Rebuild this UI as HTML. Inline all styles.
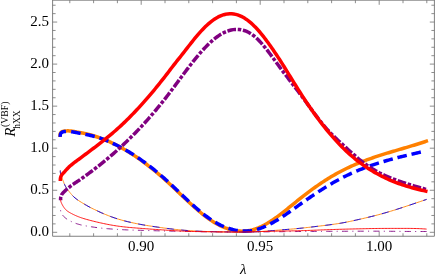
<!DOCTYPE html>
<html lang="en"><head><meta charset="utf-8"><title>plot</title>
<style>html,body{margin:0;padding:0;background:#fff;overflow:hidden}body{width:436px;height:278px;font-family:"Liberation Serif",serif}</style></head>
<body>
<svg width="436" height="278" viewBox="0 0 436 278" style="display:block;will-change:transform">
<rect x="0" y="0" width="436" height="278" fill="#fff"/>
<defs><clipPath id="c"><rect x="52.5" y="0.5" width="382" height="236"/></clipPath></defs>
<g clip-path="url(#c)" fill="none" stroke-linejoin="round">
<path d="M60.00,136.90 L59.99,136.17 L60.00,135.39 L60.00,135.28 L60.05,134.59 L60.20,133.82 L60.26,133.61 L60.48,133.11 L60.93,132.49 L61.17,132.26 L61.52,131.98 L62.20,131.60 L62.61,131.44 L62.93,131.34 L63.68,131.17 L64.23,131.09 L64.45,131.06 L65.22,130.97 L65.88,130.92 L65.99,130.91 L66.76,130.88 L67.52,130.86 L67.53,130.86 L68.29,130.87 L69.06,130.90 L69.17,130.90 L69.83,130.95 L70.59,131.01 L70.81,131.03 L71.35,131.10 L72.12,131.19 L72.44,131.24 L72.88,131.30 L73.64,131.42 L74.07,131.50 L74.40,131.55 L75.16,131.69 L75.70,131.79 L75.92,131.83 L76.67,131.97 L77.32,132.10 L77.43,132.12 L78.19,132.26 L78.94,132.40 L78.95,132.40 L79.71,132.54 L80.46,132.67 L80.57,132.69 L81.22,132.81 L81.98,132.95 L82.19,132.99 L82.73,133.09 L83.49,133.24 L83.81,133.30 L84.24,133.39 L84.99,133.54 L85.42,133.63 L85.75,133.70 L87.03,133.99 L88.63,134.38 L90.22,134.80 L91.81,135.25 L93.39,135.72 L94.96,136.21 L96.53,136.72 L98.09,137.24 L99.65,137.79 L101.20,138.36 L102.74,138.94 L104.27,139.55 L105.79,140.17 L107.31,140.82 L108.82,141.47 L110.33,142.15 L111.82,142.85 L113.31,143.55 L114.79,144.28 L116.26,145.02 L117.73,145.78 L119.18,146.55 L120.63,147.33 L122.08,148.13 L123.51,148.94 L124.94,149.76 L126.36,150.60 L127.77,151.45 L129.17,152.32 L130.57,153.19 L131.96,154.08 L133.34,154.97 L134.72,155.88 L136.09,156.80 L137.45,157.73 L138.80,158.67 L140.15,159.62 L141.49,160.58 L142.82,161.55 L144.15,162.52 L145.47,163.51 L146.79,164.50 L148.09,165.51 L149.39,166.52 L150.69,167.54 L151.98,168.57 L153.26,169.60 L154.53,170.65 L155.80,171.70 L157.07,172.76 L158.32,173.82 L159.58,174.89 L160.82,175.97 L162.06,177.06 L163.30,178.15 L164.53,179.25 L165.75,180.35 L166.97,181.46 L168.18,182.57 L169.39,183.69 L170.60,184.82 L171.80,185.95 L173.00,187.08 L174.20,188.21 L175.39,189.35 L176.58,190.48 L177.78,191.62 L178.97,192.76 L180.16,193.90 L181.35,195.04 L182.54,196.17 L183.74,197.31 L184.94,198.44 L186.13,199.57 L187.34,200.70 L188.54,201.82 L189.75,202.94 L190.96,204.06 L192.18,205.17 L193.40,206.27 L194.63,207.37 L195.87,208.46 L197.11,209.54 L198.36,210.62 L199.62,211.68 L200.89,212.73 L202.17,213.77 L203.46,214.80 L204.76,215.81 L206.07,216.81 L207.40,217.79 L208.74,218.76 L210.09,219.70 L211.46,220.62 L212.84,221.52 L214.24,222.39 L215.66,223.23 L217.09,224.04 L218.54,224.82 L220.01,225.57 L221.50,226.28 L223.01,226.95 L224.53,227.58 L226.07,228.17 L227.63,228.71 L229.21,229.21 L230.80,229.65 L232.40,230.04 L234.01,230.38 L235.64,230.65 L237.28,230.87 L238.92,231.02 L240.57,231.11 L242.22,231.14 L243.87,231.10 L245.52,230.99 L247.16,230.82 L248.79,230.58 L250.41,230.27 L252.02,229.91 L253.61,229.48 L255.19,228.99 L256.75,228.44 L258.28,227.84 L259.80,227.20 L261.30,226.51 L262.78,225.78 L264.25,225.02 L265.69,224.23 L267.12,223.41 L268.54,222.56 L269.94,221.69 L271.32,220.79 L272.69,219.88 L274.06,218.95 L275.41,218.01 L276.75,217.05 L278.08,216.08 L279.40,215.09 L280.71,214.10 L282.02,213.09 L283.32,212.08 L284.62,211.06 L285.91,210.04 L287.20,209.01 L288.48,207.98 L289.76,206.94 L291.04,205.90 L292.32,204.86 L293.60,203.82 L294.88,202.78 L296.16,201.74 L297.44,200.71 L298.72,199.67 L300.01,198.64 L301.30,197.62 L302.59,196.60 L303.89,195.58 L305.20,194.58 L306.51,193.58 L307.82,192.58 L309.14,191.59 L310.46,190.61 L311.79,189.64 L313.13,188.67 L314.47,187.71 L315.82,186.76 L317.17,185.82 L318.52,184.89 L319.89,183.96 L321.26,183.04 L322.63,182.13 L324.01,181.23 L325.40,180.34 L326.79,179.46 L328.19,178.59 L329.59,177.72 L331.01,176.87 L332.42,176.03 L333.85,175.20 L335.28,174.38 L336.71,173.57 L338.16,172.78 L339.61,171.99 L341.06,171.22 L342.53,170.46 L343.99,169.72 L345.47,168.98 L346.95,168.26 L348.44,167.55 L349.93,166.86 L351.43,166.17 L352.94,165.50 L354.45,164.84 L355.96,164.19 L357.48,163.56 L359.01,162.93 L360.54,162.31 L362.07,161.71 L363.61,161.11 L365.15,160.53 L366.69,159.95 L368.24,159.39 L369.79,158.83 L371.35,158.28 L372.90,157.74 L374.46,157.21 L376.03,156.69 L377.59,156.17 L379.16,155.66 L380.73,155.16 L382.30,154.66 L383.87,154.16 L385.45,153.67 L387.02,153.19 L388.60,152.71 L390.17,152.23 L391.75,151.76 L393.33,151.29 L394.91,150.82 L396.49,150.36 L398.08,149.89 L399.66,149.43 L401.24,148.96 L402.82,148.50 L404.40,148.03 L405.98,147.57 L407.56,147.10 L409.14,146.63 L410.72,146.16 L412.30,145.69 L413.88,145.21 L415.45,144.73 L417.03,144.24 L418.60,143.75 L420.17,143.25 L421.74,142.75 L423.31,142.24 L424.88,141.73 L426.44,141.21 L428.00,140.68" stroke="#ff8000" stroke-width="3.5"/>
<path d="M60.30,170.50 L60.28,171.29 L60.32,172.05 L60.32,172.07 L60.41,172.84 L60.54,173.56 L60.54,173.59 L60.72,174.34 L60.90,175.02 L60.92,175.07 L61.16,175.80 L61.38,176.45 L61.41,176.52 L61.68,177.24 L61.93,177.86 L61.97,177.96 L62.26,178.67 L62.51,179.28 L62.55,179.39 L62.84,180.10 L63.07,180.70 L63.12,180.83 L63.40,181.55 L63.61,182.12 L63.67,182.27 L63.95,182.99 L64.17,183.54 L64.24,183.70 L64.54,184.41 L64.77,184.93 L64.85,185.11 L65.19,185.79 L65.45,186.28 L65.55,186.47 L65.94,187.13 L66.22,187.58 L66.35,187.78 L66.78,188.41 L67.07,188.84 L67.22,189.04 L67.68,189.67 L67.98,190.06 L68.15,190.28 L68.62,190.89 L68.92,191.27 L69.10,191.50 L69.58,192.11 L69.87,192.46 L70.07,192.71 L70.56,193.31 L70.84,193.64 L71.05,193.90 L71.56,194.48 L71.83,194.79 L72.07,195.06 L72.59,195.62 L72.87,195.90 L73.13,196.17 L73.67,196.71 L73.95,196.97 L75.08,197.97 L76.27,198.92 L77.50,199.81 L78.76,200.67 L80.03,201.49 L81.32,202.29 L82.62,203.08 L83.93,203.86 L85.24,204.63 L86.55,205.39 L87.87,206.15 L89.20,206.88 L90.54,207.59 L91.90,208.28 L93.26,208.94 L94.63,209.60 L96.00,210.25 L97.38,210.90 L98.75,211.55 L100.13,212.19 L101.51,212.81 L102.91,213.42 L104.30,214.01 L105.71,214.58 L107.12,215.15 L108.53,215.70 L109.95,216.25 L111.37,216.79 L112.80,217.31 L114.23,217.81 L115.67,218.29 L117.12,218.76 L118.57,219.21 L120.03,219.64 L121.49,220.06 L122.95,220.46 L124.42,220.85 L125.89,221.22 L127.37,221.59 L128.85,221.95 L130.33,222.29 L131.81,222.63 L133.29,222.95 L134.78,223.27 L136.26,223.57 L137.75,223.87 L139.25,224.16 L140.74,224.44 L142.23,224.71 L143.73,224.97 L145.23,225.22 L146.72,225.47 L148.22,225.71 L149.72,225.95 L151.23,226.18 L152.73,226.41 L154.23,226.63 L155.73,226.85 L157.24,227.07 L158.74,227.28 L160.24,227.49 L161.75,227.70 L163.25,227.91 L164.76,228.11 L166.26,228.31 L167.77,228.51 L169.28,228.70 L170.79,228.88 L172.29,229.06 L173.80,229.24 L175.31,229.41 L176.82,229.58 L178.33,229.73 L179.84,229.88 L181.35,230.03 L182.87,230.17 L184.38,230.30 L185.89,230.42 L187.41,230.53 L188.92,230.64 L190.44,230.75 L191.96,230.85 L193.47,230.94 L194.99,231.02 L196.51,231.10 L198.02,231.18 L199.54,231.25 L201.06,231.31 L202.58,231.37 L204.09,231.42 L205.61,231.48 L207.13,231.52 L208.65,231.56 L210.17,231.60 L211.68,231.64 L213.20,231.67 L214.72,231.71 L216.24,231.74 L217.76,231.76 L219.28,231.79 L220.80,231.81 L222.31,231.84 L223.83,231.86 L225.35,231.88 L226.87,231.90 L228.39,231.92 L229.91,231.93 L231.43,231.95 L232.94,231.96 L234.46,231.97 L235.98,231.98 L237.50,231.99 L239.02,232.00 L240.54,232.00 L242.06,232.00 L243.58,232.00 L245.10,232.00 L246.62,231.99 L248.14,231.97 L249.66,231.95 L251.17,231.93 L252.69,231.89 L254.21,231.85 L255.73,231.80 L257.25,231.74 L258.76,231.67 L260.28,231.58 L261.80,231.49 L263.31,231.39 L264.82,231.28 L266.34,231.16 L267.85,231.03 L269.37,230.91 L270.88,230.77 L272.39,230.64 L273.91,230.51 L275.42,230.38 L276.93,230.25 L278.45,230.13 L279.96,230.01 L281.48,229.88 L282.99,229.76 L284.50,229.64 L286.02,229.52 L287.53,229.40 L289.05,229.28 L290.56,229.15 L292.07,229.03 L293.59,228.90 L295.10,228.76 L296.61,228.62 L298.12,228.48 L299.63,228.34 L301.15,228.18 L302.66,228.03 L304.17,227.86 L305.68,227.70 L307.18,227.53 L308.69,227.36 L310.20,227.18 L311.71,227.00 L313.22,226.82 L314.73,226.64 L316.23,226.46 L317.74,226.27 L319.25,226.09 L320.76,225.91 L322.27,225.73 L323.78,225.54 L325.28,225.36 L326.79,225.17 L328.30,224.99 L329.81,224.79 L331.31,224.59 L332.82,224.39 L334.32,224.18 L335.82,223.96 L337.33,223.73 L338.83,223.49 L340.32,223.25 L341.82,222.99 L343.31,222.72 L344.81,222.44 L346.30,222.15 L347.79,221.86 L349.27,221.55 L350.76,221.24 L352.25,220.93 L353.73,220.60 L355.22,220.28 L356.70,219.95 L358.18,219.61 L359.66,219.28 L361.15,218.94 L362.63,218.60 L364.11,218.25 L365.59,217.91 L367.07,217.56 L368.54,217.21 L370.02,216.85 L371.49,216.49 L372.97,216.13 L374.44,215.76 L375.91,215.38 L377.38,215.00 L378.85,214.61 L380.32,214.21 L381.78,213.81 L383.24,213.40 L384.70,212.99 L386.16,212.57 L387.62,212.14 L389.08,211.71 L390.53,211.27 L391.98,210.83 L393.44,210.38 L394.89,209.93 L396.34,209.47 L397.78,209.01 L399.23,208.55 L400.68,208.08 L402.12,207.61 L403.57,207.14 L405.01,206.66 L406.45,206.18 L407.89,205.70 L409.33,205.22 L410.77,204.74 L412.21,204.25 L413.65,203.77 L415.09,203.28 L416.53,202.79 L417.97,202.31 L419.41,201.82 L420.85,201.34 L422.29,200.85 L423.72,200.37 L425.16,199.88 L426.60,199.40" stroke="#ff8000" stroke-width="0.9"/>
<path d="M60.30,136.90 L60.25,136.16 L60.27,135.38 L60.27,135.28 L60.37,134.59 L60.60,133.85 L60.67,133.68 L60.97,133.18 L61.50,132.61 L61.71,132.45 L62.14,132.18 L62.86,131.88 L63.20,131.78 L63.60,131.70 L64.37,131.58 L64.82,131.54 L65.14,131.51 L65.92,131.46 L66.45,131.43 L66.69,131.42 L67.46,131.41 L68.08,131.41 L68.22,131.41 L68.99,131.44 L69.69,131.49 L69.75,131.50 L70.51,131.57 L71.28,131.66 L71.31,131.67 L72.04,131.77 L72.80,131.89 L72.91,131.91 L73.55,132.03 L74.31,132.17 L74.52,132.21 L75.07,132.32 L75.83,132.47 L76.12,132.53 L76.58,132.63 L77.34,132.79 L77.72,132.87 L78.09,132.94 L78.85,133.09 L79.32,133.18 L79.61,133.24 L80.36,133.38 L80.92,133.49 L81.12,133.53 L81.88,133.67 L82.52,133.79 L82.63,133.81 L83.39,133.95 L84.12,134.09 L84.14,134.09 L84.90,134.24 L85.65,134.39 L85.71,134.40 L86.40,134.54 L87.31,134.72 L88.90,135.07 L90.48,135.43 L92.07,135.81 L93.64,136.21 L95.22,136.63 L96.79,137.07 L98.35,137.54 L99.90,138.03 L101.44,138.55 L102.97,139.10 L104.49,139.69 L106.00,140.30 L107.50,140.93 L108.99,141.58 L110.47,142.25 L111.95,142.93 L113.43,143.62 L114.90,144.32 L116.36,145.04 L117.81,145.76 L119.26,146.50 L120.71,147.26 L122.14,148.03 L123.57,148.81 L124.99,149.60 L126.41,150.40 L127.81,151.22 L129.21,152.05 L130.61,152.89 L131.99,153.75 L133.37,154.62 L134.73,155.50 L136.09,156.40 L137.44,157.31 L138.78,158.23 L140.12,159.16 L141.45,160.10 L142.77,161.05 L144.08,162.01 L145.39,162.98 L146.69,163.96 L147.99,164.94 L149.28,165.94 L150.56,166.93 L151.84,167.94 L153.12,168.95 L154.38,169.97 L155.65,171.00 L156.91,172.03 L158.16,173.07 L159.40,174.12 L160.64,175.17 L161.88,176.23 L163.10,177.30 L164.33,178.38 L165.54,179.46 L166.75,180.55 L167.95,181.65 L169.14,182.75 L170.33,183.86 L171.52,184.98 L172.70,186.10 L173.89,187.22 L175.06,188.34 L176.24,189.46 L177.42,190.58 L178.60,191.71 L179.77,192.83 L180.95,193.95 L182.13,195.08 L183.31,196.20 L184.49,197.32 L185.67,198.44 L186.86,199.55 L188.05,200.66 L189.24,201.77 L190.43,202.88 L191.63,203.97 L192.84,205.07 L194.05,206.15 L195.27,207.23 L196.49,208.31 L197.73,209.37 L198.96,210.43 L200.21,211.47 L201.47,212.51 L202.74,213.53 L204.01,214.54 L205.30,215.53 L206.60,216.51 L207.92,217.47 L209.25,218.41 L210.59,219.33 L211.94,220.24 L213.31,221.11 L214.70,221.97 L216.11,222.79 L217.53,223.59 L218.97,224.35 L220.42,225.08 L221.90,225.76 L223.39,226.41 L224.91,227.01 L226.43,227.58 L227.97,228.10 L229.53,228.59 L231.09,229.05 L232.67,229.47 L234.25,229.85 L235.85,230.18 L237.45,230.46 L239.06,230.69 L240.68,230.85 L242.31,230.96 L243.94,231.01 L245.57,231.01 L247.20,230.97 L248.82,230.87 L250.45,230.71 L252.06,230.50 L253.66,230.22 L255.26,229.88 L256.83,229.47 L258.40,229.01 L259.94,228.50 L261.48,227.95 L263.00,227.36 L264.50,226.73 L265.99,226.07 L267.47,225.39 L268.93,224.67 L270.38,223.93 L271.81,223.16 L273.24,222.38 L274.65,221.57 L276.05,220.74 L277.45,219.90 L278.83,219.04 L280.20,218.17 L281.57,217.29 L282.93,216.39 L284.29,215.49 L285.63,214.58 L286.98,213.66 L288.31,212.73 L289.65,211.80 L290.98,210.86 L292.30,209.92 L293.63,208.97 L294.95,208.03 L296.28,207.08 L297.60,206.13 L298.92,205.18 L300.25,204.24 L301.57,203.29 L302.90,202.35 L304.23,201.41 L305.56,200.47 L306.89,199.54 L308.23,198.62 L309.57,197.69 L310.91,196.77 L312.26,195.86 L313.61,194.95 L314.96,194.04 L316.32,193.14 L317.68,192.25 L319.04,191.36 L320.41,190.48 L321.78,189.60 L323.15,188.73 L324.53,187.87 L325.92,187.01 L327.31,186.16 L328.70,185.32 L330.10,184.49 L331.50,183.66 L332.91,182.85 L334.32,182.04 L335.74,181.24 L337.17,180.45 L338.60,179.68 L340.03,178.91 L341.47,178.15 L342.92,177.41 L344.37,176.68 L345.83,175.96 L347.30,175.25 L348.77,174.55 L350.24,173.87 L351.73,173.19 L353.21,172.53 L354.70,171.88 L356.20,171.23 L357.70,170.60 L359.21,169.99 L360.71,169.38 L362.23,168.78 L363.75,168.19 L365.27,167.62 L366.79,167.05 L368.32,166.50 L369.86,165.95 L371.39,165.41 L372.93,164.89 L374.48,164.37 L376.02,163.86 L377.57,163.36 L379.12,162.87 L380.68,162.39 L382.24,161.91 L383.79,161.45 L385.36,160.99 L386.92,160.54 L388.49,160.09 L390.05,159.66 L391.62,159.22 L393.19,158.80 L394.77,158.38 L396.34,157.97 L397.92,157.56 L399.49,157.16 L401.07,156.76 L402.65,156.37 L404.23,155.98 L405.81,155.59 L407.39,155.21 L408.98,154.83 L410.56,154.46 L412.14,154.08 L413.73,153.71 L415.31,153.34 L416.90,152.98 L418.48,152.61 L420.07,152.24 L421.66,151.88 L423.24,151.51 L424.83,151.15 L426.41,150.78 L428.00,150.42" stroke="#0000ff" stroke-width="3.5" stroke-dasharray="9.3 5.25 9.6 4.85 9.6 4.85 9.6 4.85 9.6 4.85 9.6 4.85 9.6 4.85 9.6 4.85 9.6 4.85 9.6 4.85 9.6 4.85 9.6 4.85 9.6 4.85 9.6 4.85 9.6 4.85 9.6 4.85 9.6 4.85 9.6 4.85 9.6 4.85 9.6 4.85 9.6 4.85 9.6 4.85 9.6 4.85 9.6 4.85 9.6 4.85 9.6 4.85 9.6 4.85 9.6 4.85 9.6 2000"/>
<path d="M60.30,170.50 L60.28,171.29 L60.32,172.05 L60.32,172.07 L60.41,172.84 L60.54,173.56 L60.54,173.59 L60.72,174.34 L60.90,175.02 L60.92,175.07 L61.16,175.80 L61.38,176.45 L61.41,176.52 L61.68,177.24 L61.93,177.86 L61.97,177.96 L62.26,178.67 L62.51,179.28 L62.55,179.39 L62.84,180.10 L63.07,180.70 L63.12,180.83 L63.40,181.55 L63.61,182.12 L63.67,182.27 L63.95,182.99 L64.17,183.54 L64.24,183.70 L64.54,184.41 L64.77,184.93 L64.85,185.11 L65.19,185.79 L65.45,186.28 L65.55,186.47 L65.94,187.13 L66.22,187.58 L66.35,187.78 L66.78,188.41 L67.07,188.84 L67.22,189.04 L67.68,189.67 L67.98,190.06 L68.15,190.28 L68.62,190.89 L68.92,191.27 L69.10,191.50 L69.58,192.11 L69.87,192.46 L70.07,192.71 L70.56,193.31 L70.84,193.64 L71.05,193.90 L71.56,194.48 L71.83,194.79 L72.07,195.06 L72.59,195.62 L72.87,195.90 L73.13,196.17 L73.67,196.71 L73.95,196.97 L75.08,197.97 L76.27,198.92 L77.50,199.81 L78.76,200.67 L80.03,201.49 L81.32,202.29 L82.62,203.08 L83.93,203.86 L85.24,204.63 L86.55,205.39 L87.87,206.15 L89.20,206.88 L90.54,207.59 L91.90,208.28 L93.26,208.94 L94.63,209.60 L96.00,210.25 L97.38,210.90 L98.75,211.55 L100.13,212.19 L101.51,212.81 L102.91,213.42 L104.30,214.01 L105.71,214.58 L107.12,215.15 L108.53,215.70 L109.95,216.25 L111.37,216.79 L112.80,217.31 L114.23,217.81 L115.67,218.29 L117.12,218.76 L118.57,219.21 L120.03,219.64 L121.49,220.06 L122.95,220.46 L124.42,220.85 L125.89,221.22 L127.37,221.59 L128.85,221.95 L130.33,222.29 L131.81,222.63 L133.29,222.95 L134.78,223.27 L136.26,223.57 L137.75,223.87 L139.25,224.16 L140.74,224.44 L142.23,224.71 L143.73,224.97 L145.23,225.22 L146.72,225.47 L148.22,225.71 L149.72,225.95 L151.23,226.18 L152.73,226.41 L154.23,226.63 L155.73,226.85 L157.24,227.07 L158.74,227.28 L160.24,227.49 L161.75,227.70 L163.25,227.91 L164.76,228.11 L166.26,228.31 L167.77,228.51 L169.28,228.70 L170.79,228.88 L172.29,229.06 L173.80,229.24 L175.31,229.41 L176.82,229.58 L178.33,229.73 L179.84,229.88 L181.35,230.03 L182.87,230.17 L184.38,230.30 L185.89,230.42 L187.41,230.53 L188.92,230.64 L190.44,230.75 L191.96,230.85 L193.47,230.94 L194.99,231.02 L196.51,231.10 L198.02,231.18 L199.54,231.25 L201.06,231.31 L202.58,231.37 L204.09,231.42 L205.61,231.48 L207.13,231.52 L208.65,231.56 L210.17,231.60 L211.68,231.64 L213.20,231.67 L214.72,231.71 L216.24,231.74 L217.76,231.76 L219.28,231.79 L220.80,231.81 L222.31,231.84 L223.83,231.86 L225.35,231.88 L226.87,231.90 L228.39,231.92 L229.91,231.93 L231.43,231.95 L232.94,231.96 L234.46,231.97 L235.98,231.98 L237.50,231.99 L239.02,232.00 L240.54,232.00 L242.06,232.00 L243.58,232.00 L245.10,232.00 L246.62,231.99 L248.14,231.97 L249.66,231.95 L251.17,231.93 L252.69,231.89 L254.21,231.85 L255.73,231.80 L257.25,231.74 L258.76,231.67 L260.28,231.58 L261.80,231.49 L263.31,231.39 L264.82,231.28 L266.34,231.16 L267.85,231.03 L269.37,230.91 L270.88,230.77 L272.39,230.64 L273.91,230.51 L275.42,230.38 L276.93,230.25 L278.45,230.13 L279.96,230.01 L281.48,229.88 L282.99,229.76 L284.50,229.64 L286.02,229.52 L287.53,229.40 L289.05,229.28 L290.56,229.15 L292.07,229.03 L293.59,228.90 L295.10,228.76 L296.61,228.62 L298.12,228.48 L299.63,228.34 L301.15,228.18 L302.66,228.03 L304.17,227.86 L305.68,227.70 L307.18,227.53 L308.69,227.36 L310.20,227.18 L311.71,227.00 L313.22,226.82 L314.73,226.64 L316.23,226.46 L317.74,226.27 L319.25,226.09 L320.76,225.91 L322.27,225.73 L323.78,225.54 L325.28,225.36 L326.79,225.17 L328.30,224.99 L329.81,224.79 L331.31,224.59 L332.82,224.39 L334.32,224.18 L335.82,223.96 L337.33,223.73 L338.83,223.49 L340.32,223.25 L341.82,222.99 L343.31,222.72 L344.81,222.44 L346.30,222.15 L347.79,221.86 L349.27,221.55 L350.76,221.24 L352.25,220.93 L353.73,220.60 L355.22,220.28 L356.70,219.95 L358.18,219.61 L359.66,219.28 L361.15,218.94 L362.63,218.60 L364.11,218.25 L365.59,217.91 L367.07,217.56 L368.54,217.21 L370.02,216.85 L371.49,216.49 L372.97,216.13 L374.44,215.76 L375.91,215.38 L377.38,215.00 L378.85,214.61 L380.32,214.21 L381.78,213.81 L383.24,213.40 L384.70,212.99 L386.16,212.57 L387.62,212.14 L389.08,211.71 L390.53,211.27 L391.98,210.83 L393.44,210.38 L394.89,209.93 L396.34,209.47 L397.78,209.01 L399.23,208.55 L400.68,208.08 L402.12,207.61 L403.57,207.14 L405.01,206.66 L406.45,206.18 L407.89,205.70 L409.33,205.22 L410.77,204.74 L412.21,204.25 L413.65,203.77 L415.09,203.28 L416.53,202.79 L417.97,202.31 L419.41,201.82 L420.85,201.34 L422.29,200.85 L423.72,200.37 L425.16,199.88 L426.60,199.40" stroke="#0000ff" stroke-width="0.9" stroke-dasharray="6.5 7.6 7 7.45 7 7.45 7 7.45 7 7.45 7 7.45 7 7.45 7 7.45 7 7.45 7 7.45 7 7.45 7 7.45 7 7.45 7 7.45 7 7.45 7 7.45 7 7.45 7 7.45 7 7.45 7 7.45 7 7.45 7 7.45 7 7.45 7 7.45 7 7.45 7 7.45 7 7.45 7 7.45 7 2000"/>
<path d="M60.60,200.20 L60.57,199.44 L60.59,198.67 L60.62,198.25 L60.66,197.89 L60.79,197.12 L60.97,196.37 L60.99,196.31 L61.22,195.64 L61.53,194.94 L61.76,194.53 L61.91,194.28 L62.36,193.66 L62.85,193.07 L62.93,192.97 L63.37,192.49 L63.93,191.94 L64.32,191.56 L64.49,191.40 L65.06,190.87 L65.63,190.34 L65.77,190.21 L66.20,189.82 L66.78,189.30 L67.23,188.90 L67.36,188.79 L67.94,188.29 L68.52,187.79 L68.71,187.64 L69.11,187.31 L69.71,186.83 L70.22,186.42 L70.31,186.35 L70.91,185.89 L71.53,185.43 L71.78,185.25 L72.15,184.98 L72.78,184.54 L73.37,184.13 L73.41,184.11 L74.05,183.67 L74.69,183.25 L75.00,183.04 L75.33,182.82 L75.97,182.40 L76.62,181.97 L76.63,181.97 L77.26,181.55 L77.91,181.13 L78.27,180.89 L78.55,180.70 L79.19,180.27 L79.83,179.84 L79.89,179.80 L80.46,179.40 L81.50,178.68 L83.09,177.55 L84.67,176.40 L86.25,175.25 L87.82,174.09 L89.39,172.93 L90.96,171.76 L92.52,170.59 L94.08,169.41 L95.63,168.22 L97.17,167.02 L98.71,165.82 L100.24,164.61 L101.77,163.38 L103.29,162.15 L104.80,160.92 L106.30,159.67 L107.80,158.42 L109.30,157.16 L110.78,155.89 L112.27,154.62 L113.74,153.33 L115.21,152.04 L116.67,150.75 L118.12,149.44 L119.57,148.13 L121.01,146.80 L122.44,145.48 L123.86,144.14 L125.28,142.80 L126.69,141.45 L128.10,140.09 L129.50,138.72 L130.89,137.35 L132.27,135.97 L133.65,134.58 L135.02,133.19 L136.38,131.79 L137.73,130.38 L139.08,128.97 L140.42,127.55 L141.76,126.12 L143.09,124.68 L144.41,123.24 L145.72,121.80 L147.02,120.34 L148.32,118.88 L149.61,117.42 L150.90,115.94 L152.18,114.47 L153.45,112.98 L154.71,111.49 L155.97,110.00 L157.22,108.49 L158.46,106.99 L159.70,105.47 L160.93,103.96 L162.15,102.43 L163.37,100.90 L164.58,99.37 L165.78,97.83 L166.97,96.28 L168.16,94.73 L169.35,93.18 L170.53,91.62 L171.70,90.06 L172.87,88.49 L174.04,86.93 L175.21,85.36 L176.37,83.79 L177.53,82.22 L178.69,80.65 L179.86,79.08 L181.02,77.51 L182.18,75.94 L183.35,74.37 L184.52,72.81 L185.69,71.24 L186.87,69.68 L188.05,68.13 L189.24,66.57 L190.43,65.03 L191.63,63.49 L192.84,61.95 L194.06,60.42 L195.28,58.90 L196.52,57.39 L197.77,55.88 L199.03,54.39 L200.30,52.91 L201.59,51.44 L202.90,49.99 L204.22,48.55 L205.57,47.13 L206.93,45.73 L208.32,44.35 L209.73,43.00 L211.16,41.67 L212.63,40.38 L214.13,39.12 L215.66,37.91 L217.23,36.74 L218.83,35.62 L220.48,34.56 L222.17,33.58 L223.90,32.66 L225.68,31.83 L227.49,31.10 L229.35,30.48 L231.25,29.99 L233.18,29.63 L235.13,29.42 L237.09,29.36 L239.05,29.46 L240.99,29.73 L242.91,30.16 L244.78,30.73 L246.61,31.45 L248.38,32.29 L250.09,33.25 L251.74,34.31 L253.33,35.46 L254.86,36.68 L256.33,37.97 L257.75,39.31 L259.13,40.70 L260.47,42.13 L261.77,43.58 L263.05,45.07 L264.30,46.57 L265.54,48.09 L266.75,49.62 L267.95,51.16 L269.13,52.71 L270.31,54.27 L271.47,55.84 L272.63,57.42 L273.79,58.99 L274.94,60.57 L276.09,62.15 L277.24,63.73 L278.39,65.30 L279.55,66.88 L280.72,68.45 L281.88,70.01 L283.06,71.58 L284.23,73.14 L285.41,74.70 L286.59,76.25 L287.77,77.81 L288.96,79.36 L290.15,80.91 L291.33,82.47 L292.52,84.02 L293.71,85.57 L294.89,87.12 L296.08,88.68 L297.26,90.23 L298.44,91.79 L299.61,93.35 L300.79,94.92 L301.95,96.48 L303.12,98.05 L304.28,99.62 L305.43,101.20 L306.59,102.78 L307.74,104.35 L308.89,105.93 L310.04,107.51 L311.20,109.09 L312.35,110.66 L313.51,112.23 L314.68,113.80 L315.85,115.36 L317.03,116.92 L318.22,118.48 L319.41,120.02 L320.62,121.56 L321.84,123.09 L323.08,124.60 L324.33,126.10 L325.60,127.59 L326.89,129.05 L328.20,130.50 L329.53,131.93 L330.88,133.34 L332.25,134.74 L333.64,136.12 L335.04,137.48 L336.45,138.83 L337.87,140.17 L339.30,141.50 L340.74,142.82 L342.18,144.15 L343.62,145.47 L345.06,146.79 L346.50,148.11 L347.94,149.43 L349.39,150.74 L350.84,152.05 L352.29,153.35 L353.75,154.65 L355.23,155.94 L356.71,157.21 L358.20,158.47 L359.70,159.72 L361.22,160.95 L362.76,162.16 L364.31,163.35 L365.88,164.51 L367.48,165.64 L369.09,166.74 L370.73,167.81 L372.38,168.85 L374.06,169.85 L375.75,170.83 L377.46,171.77 L379.19,172.69 L380.94,173.57 L382.69,174.42 L384.46,175.25 L386.25,176.05 L388.04,176.83 L389.84,177.58 L391.65,178.31 L393.47,179.03 L395.30,179.72 L397.13,180.40 L398.97,181.06 L400.82,181.70 L402.67,182.33 L404.52,182.95 L406.38,183.55 L408.24,184.14 L410.11,184.72 L411.98,185.29 L413.85,185.85 L415.72,186.40 L417.60,186.94 L419.48,187.48 L421.36,188.02 L423.24,188.55 L425.12,189.08 L427.00,189.61" stroke="#800080" stroke-width="3.5" stroke-dasharray="3.5 1.72 8.74 1.72 3.5 1.72 8.74 1.72 3.5 1.72 8.74 1.72 3.5 1.72 8.74 1.72 3.5 1.72 8.74 1.72 3.5 1.72 8.74 1.72 3.5 1.72 8.74 1.72 3.5 1.72 8.74 1.72 3.5 1.72 8.74 1.72 3.5 1.72 8.74 1.72 3.5 1.72 8.74 1.72 3.5 1.72 8.74 1.72 3.5 1.72 8.74 1.72 3.5 1.72 8.74 1.72 3.5 1.72 8.74 1.72 3.5 1.72 8.74 1.72 3.5 1.72 8.74 1.72 3.5 1.72 8.74 1.72 3.5 1.72 8.74 1.72 3.5 1.72 8.74 1.72 3.5 1.72 8.74 1.72 3.5 1.72 8.74 1.72 3.5 1.72 8.74 1.72 3.5 1.72 8.74 1.72 3.5 1.72 8.74 1.72 3.5 1.72 8.74 1.72 3.5 1.72 8.74 1.72 3.5 1.72 8.74 1.72 3.5 1.72 8.74 1.72 3.5 1.72 8.74 1.72 3.5 1.72 8.74 1.72 3.5 1.72 8.74 1.72 3.5 1.72 8.74 1.72 3.5 1.72 8.74 2000"/>
<path d="M60.60,210.30 L60.64,211.09 L60.76,211.76 L60.79,211.85 L61.02,212.58 L61.25,213.10 L61.34,213.28 L61.71,213.95 L61.97,214.34 L62.15,214.59 L62.62,215.20 L62.85,215.49 L63.12,215.79 L63.64,216.36 L63.83,216.55 L64.19,216.90 L64.76,217.42 L64.89,217.53 L65.35,217.92 L65.95,218.40 L66.01,218.44 L66.57,218.85 L67.18,219.27 L67.21,219.29 L67.86,219.70 L68.40,220.02 L68.52,220.09 L69.19,220.47 L69.66,220.72 L69.87,220.83 L70.56,221.18 L70.95,221.37 L71.25,221.52 L71.95,221.84 L72.25,221.98 L72.66,222.16 L73.36,222.46 L73.58,222.55 L74.08,222.75 L74.79,223.03 L74.92,223.08 L75.52,223.30 L76.24,223.55 L76.27,223.56 L76.97,223.79 L77.64,224.00 L77.71,224.02 L78.44,224.24 L79.02,224.40 L79.18,224.44 L79.93,224.64 L80.41,224.76 L80.67,224.83 L81.42,225.00 L81.81,225.09 L82.17,225.17 L82.92,225.33 L83.22,225.39 L83.68,225.49 L84.44,225.63 L84.63,225.67 L86.05,225.93 L87.47,226.17 L88.89,226.40 L90.32,226.63 L91.74,226.85 L93.16,227.06 L94.59,227.27 L96.01,227.47 L97.43,227.66 L98.86,227.84 L100.29,228.01 L101.71,228.17 L103.14,228.32 L104.57,228.45 L106.01,228.58 L107.44,228.70 L108.87,228.81 L110.31,228.92 L111.74,229.02 L113.18,229.11 L114.61,229.21 L116.05,229.30 L117.48,229.39 L118.92,229.48 L120.35,229.56 L121.79,229.64 L123.23,229.72 L124.66,229.79 L126.10,229.86 L127.53,229.92 L128.97,229.98 L130.41,230.03 L131.85,230.08 L133.28,230.12 L134.72,230.16 L136.16,230.20 L137.60,230.24 L139.03,230.27 L140.47,230.31 L141.91,230.35 L143.35,230.39 L144.78,230.44 L146.22,230.48 L147.66,230.52 L149.09,230.56 L150.53,230.61 L151.97,230.65 L153.41,230.69 L154.84,230.73 L156.28,230.77 L157.72,230.81 L159.16,230.85 L160.59,230.89 L162.03,230.93 L163.47,230.96 L164.91,230.99 L166.34,231.03 L167.78,231.06 L169.22,231.09 L170.66,231.12 L172.09,231.14 L173.53,231.17 L174.97,231.20 L176.41,231.23 L177.84,231.26 L179.28,231.29 L180.72,231.31 L182.16,231.34 L183.60,231.37 L185.03,231.40 L186.47,231.43 L187.91,231.46 L189.35,231.49 L190.78,231.52 L192.22,231.55 L193.66,231.58 L195.10,231.61 L196.53,231.64 L197.97,231.66 L199.41,231.69 L200.85,231.71 L202.29,231.74 L203.72,231.76 L205.16,231.78 L206.60,231.80 L208.04,231.82 L209.47,231.84 L210.91,231.86 L212.35,231.87 L213.79,231.89 L215.23,231.90 L216.66,231.92 L218.10,231.93 L219.54,231.94 L220.98,231.95 L222.42,231.96 L223.85,231.97 L225.29,231.98 L226.73,231.98 L228.17,231.99 L229.61,231.99 L231.04,232.00 L232.48,232.00 L233.92,232.00 L235.36,232.00 L236.80,232.00 L238.23,232.00 L239.67,232.00 L241.11,232.00 L242.55,231.99 L243.98,231.99 L245.42,231.99 L246.86,231.98 L248.30,231.97 L249.74,231.97 L251.17,231.96 L252.61,231.95 L254.05,231.94 L255.49,231.93 L256.93,231.92 L258.36,231.91 L259.80,231.90 L261.24,231.89 L262.68,231.87 L264.12,231.86 L265.55,231.85 L266.99,231.83 L268.43,231.82 L269.87,231.81 L271.31,231.79 L272.74,231.78 L274.18,231.76 L275.62,231.75 L277.06,231.73 L278.49,231.72 L279.93,231.70 L281.37,231.69 L282.81,231.67 L284.25,231.65 L285.68,231.64 L287.12,231.62 L288.56,231.61 L290.00,231.59 L291.44,231.58 L292.87,231.56 L294.31,231.55 L295.75,231.54 L297.19,231.52 L298.62,231.51 L300.06,231.50 L301.50,231.49 L302.94,231.48 L304.38,231.47 L305.81,231.46 L307.25,231.45 L308.69,231.44 L310.13,231.43 L311.57,231.42 L313.00,231.42 L314.44,231.41 L315.88,231.40 L317.32,231.40 L318.76,231.39 L320.19,231.38 L321.63,231.38 L323.07,231.37 L324.51,231.37 L325.95,231.36 L327.38,231.35 L328.82,231.35 L330.26,231.34 L331.70,231.34 L333.13,231.33 L334.57,231.32 L336.01,231.32 L337.45,231.31 L338.89,231.31 L340.32,231.30 L341.76,231.29 L343.20,231.28 L344.64,231.28 L346.08,231.27 L347.51,231.26 L348.95,231.25 L350.39,231.25 L351.83,231.24 L353.27,231.23 L354.70,231.22 L356.14,231.22 L357.58,231.21 L359.02,231.20 L360.46,231.20 L361.89,231.19 L363.33,231.19 L364.77,231.19 L366.21,231.18 L367.65,231.18 L369.08,231.18 L370.52,231.18 L371.96,231.18 L373.40,231.18 L374.84,231.18 L376.27,231.19 L377.71,231.19 L379.15,231.20 L380.59,231.20 L382.02,231.21 L383.46,231.22 L384.90,231.23 L386.34,231.24 L387.78,231.26 L389.21,231.27 L390.65,231.28 L392.09,231.30 L393.53,231.31 L394.97,231.33 L396.40,231.34 L397.84,231.36 L399.28,231.37 L400.72,231.39 L402.16,231.40 L403.59,231.41 L405.03,231.43 L406.47,231.44 L407.91,231.45 L409.34,231.46 L410.78,231.48 L412.22,231.48 L413.66,231.49 L415.10,231.50 L416.53,231.51 L417.97,231.51 L419.41,231.51 L420.85,231.51 L422.29,231.51 L423.72,231.51 L425.16,231.51 L426.60,231.50" stroke="#800080" stroke-width="0.9" stroke-dasharray="1 4.28 6.14 4.28 1 4.28 6.14 4.28 1 4.28 6.14 4.28 1 4.28 6.14 4.28 1 4.28 6.14 4.28 1 4.28 6.14 4.28 1 4.28 6.14 4.28 1 4.28 6.14 4.28 1 4.28 6.14 4.28 1 4.28 6.14 4.28 1 4.28 6.14 4.28 1 4.28 6.14 4.28 1 4.28 6.14 4.28 1 4.28 6.14 4.28 1 4.28 6.14 4.28 1 4.28 6.14 4.28 1 4.28 6.14 4.28 1 4.28 6.14 4.28 1 4.28 6.14 4.28 1 4.28 6.14 4.28 1 4.28 6.14 4.28 1 4.28 6.14 4.28 1 4.28 6.14 4.28 1 4.28 6.14 4.28 1 4.28 6.14 4.28 1 2000"/>
<path d="M60.30,181.00 L60.29,180.24 L60.32,179.46 L60.35,179.00 L60.38,178.69 L60.50,177.93 L60.68,177.18 L60.72,177.04 L60.93,176.45 L61.26,175.76 L61.57,175.22 L61.65,175.09 L62.10,174.46 L62.60,173.88 L62.80,173.65 L63.12,173.31 L63.65,172.75 L64.18,172.20 L64.18,172.19 L64.70,171.62 L65.21,171.05 L65.51,170.71 L65.72,170.47 L66.23,169.90 L66.75,169.33 L66.85,169.22 L67.27,168.77 L67.81,168.21 L68.23,167.78 L68.35,167.66 L68.90,167.12 L69.46,166.59 L69.67,166.39 L70.02,166.07 L70.59,165.56 L71.17,165.06 L71.18,165.06 L71.76,164.56 L72.36,164.08 L72.71,163.80 L72.96,163.60 L73.57,163.13 L74.18,162.66 L74.29,162.58 L74.80,162.20 L75.42,161.74 L75.90,161.39 L76.04,161.29 L76.66,160.84 L77.29,160.38 L77.52,160.21 L77.91,159.93 L78.54,159.48 L79.14,159.04 L79.16,159.03 L80.76,157.86 L82.36,156.66 L83.96,155.46 L85.55,154.26 L87.15,153.06 L88.75,151.86 L90.35,150.66 L91.95,149.46 L93.54,148.26 L95.14,147.05 L96.73,145.84 L98.31,144.62 L99.89,143.40 L101.47,142.17 L103.04,140.93 L104.60,139.68 L106.16,138.43 L107.71,137.17 L109.25,135.90 L110.79,134.62 L112.31,133.33 L113.83,132.02 L115.34,130.71 L116.84,129.39 L118.33,128.06 L119.81,126.71 L121.27,125.36 L122.73,123.99 L124.18,122.61 L125.62,121.22 L127.05,119.83 L128.47,118.42 L129.88,117.01 L131.29,115.58 L132.68,114.15 L134.07,112.71 L135.44,111.26 L136.81,109.81 L138.18,108.34 L139.53,106.87 L140.88,105.39 L142.22,103.91 L143.55,102.42 L144.87,100.92 L146.19,99.42 L147.50,97.91 L148.81,96.39 L150.10,94.87 L151.39,93.35 L152.68,91.82 L153.96,90.28 L155.23,88.74 L156.50,87.19 L157.76,85.64 L159.01,84.09 L160.26,82.53 L161.51,80.96 L162.75,79.40 L163.98,77.82 L165.21,76.25 L166.43,74.66 L167.65,73.08 L168.86,71.49 L170.07,69.89 L171.28,68.30 L172.49,66.71 L173.70,65.13 L174.93,63.55 L176.17,61.98 L177.41,60.41 L178.66,58.85 L179.91,57.29 L181.16,55.73 L182.40,54.16 L183.64,52.60 L184.87,51.02 L186.10,49.44 L187.32,47.87 L188.55,46.29 L189.78,44.71 L191.01,43.14 L192.26,41.57 L193.51,40.01 L194.77,38.46 L196.05,36.92 L197.34,35.40 L198.64,33.88 L199.96,32.38 L201.30,30.90 L202.67,29.44 L204.06,28.00 L205.48,26.59 L206.93,25.21 L208.41,23.87 L209.93,22.56 L211.48,21.31 L213.09,20.11 L214.74,18.97 L216.44,17.91 L218.19,16.93 L219.99,16.06 L221.84,15.30 L223.75,14.68 L225.70,14.20 L227.69,13.88 L229.69,13.73 L231.69,13.76 L233.69,13.97 L235.66,14.35 L237.59,14.89 L239.48,15.57 L241.32,16.38 L243.09,17.30 L244.82,18.33 L246.48,19.44 L248.10,20.62 L249.67,21.86 L251.19,23.16 L252.67,24.51 L254.11,25.90 L255.52,27.32 L256.89,28.77 L258.23,30.26 L259.55,31.76 L260.84,33.29 L262.10,34.84 L263.35,36.41 L264.57,37.99 L265.78,39.58 L266.97,41.19 L268.15,42.80 L269.31,44.43 L270.47,46.06 L271.61,47.70 L272.75,49.34 L273.88,50.99 L275.01,52.64 L276.12,54.30 L277.23,55.96 L278.33,57.63 L279.42,59.31 L280.50,60.99 L281.57,62.68 L282.63,64.37 L283.70,66.06 L284.75,67.76 L285.81,69.46 L286.86,71.16 L287.91,72.86 L288.96,74.56 L290.01,76.26 L291.06,77.96 L292.11,79.66 L293.17,81.36 L294.22,83.06 L295.27,84.76 L296.33,86.45 L297.39,88.15 L298.45,89.84 L299.52,91.53 L300.59,93.22 L301.67,94.90 L302.75,96.58 L303.84,98.26 L304.94,99.93 L306.04,101.60 L307.15,103.26 L308.27,104.91 L309.40,106.57 L310.53,108.21 L311.67,109.86 L312.82,111.49 L313.97,113.12 L315.14,114.75 L316.31,116.36 L317.50,117.98 L318.69,119.58 L319.89,121.18 L321.10,122.77 L322.32,124.35 L323.55,125.93 L324.79,127.50 L326.04,129.06 L327.30,130.61 L328.58,132.15 L329.86,133.68 L331.16,135.20 L332.47,136.71 L333.79,138.21 L335.12,139.70 L336.47,141.18 L337.83,142.64 L339.20,144.10 L340.59,145.53 L341.99,146.96 L343.41,148.37 L344.85,149.76 L346.30,151.14 L347.76,152.50 L349.24,153.84 L350.74,155.17 L352.25,156.47 L353.78,157.76 L355.32,159.03 L356.88,160.28 L358.46,161.51 L360.05,162.72 L361.66,163.91 L363.28,165.08 L364.92,166.22 L366.58,167.34 L368.24,168.44 L369.93,169.52 L371.63,170.57 L373.34,171.61 L375.07,172.61 L376.81,173.59 L378.56,174.55 L380.33,175.49 L382.11,176.40 L383.91,177.28 L385.71,178.14 L387.53,178.98 L389.35,179.79 L391.19,180.58 L393.04,181.34 L394.90,182.08 L396.76,182.79 L398.64,183.49 L400.52,184.16 L402.41,184.81 L404.31,185.43 L406.21,186.04 L408.13,186.62 L410.04,187.19 L411.97,187.74 L413.89,188.27 L415.83,188.78 L417.76,189.27 L419.70,189.75 L421.65,190.21 L423.60,190.66 L425.55,191.10 L427.50,191.52" stroke="#ff0000" stroke-width="3.5"/>
<path d="M60.50,199.50 L60.58,200.27 L60.72,200.94 L60.74,201.02 L60.95,201.76 L61.15,202.32 L61.21,202.48 L61.51,203.19 L61.73,203.65 L61.84,203.89 L62.19,204.58 L62.39,204.94 L62.56,205.25 L62.95,205.92 L63.12,206.20 L63.35,206.57 L63.78,207.22 L63.92,207.42 L64.22,207.86 L64.69,208.47 L64.79,208.59 L65.19,209.06 L65.71,209.62 L65.76,209.67 L66.27,210.15 L66.83,210.64 L66.85,210.65 L67.46,211.12 L68.00,211.50 L68.09,211.56 L68.74,211.98 L69.23,212.28 L69.40,212.38 L70.08,212.76 L70.51,213.00 L70.75,213.13 L71.44,213.50 L71.79,213.69 L72.12,213.86 L72.81,214.21 L73.09,214.35 L73.50,214.55 L74.19,214.88 L74.39,214.98 L74.89,215.21 L75.59,215.53 L75.71,215.58 L76.29,215.84 L76.99,216.14 L77.04,216.16 L77.70,216.43 L78.38,216.70 L78.42,216.72 L79.14,216.99 L79.74,217.22 L79.86,217.26 L80.58,217.52 L81.10,217.71 L81.31,217.78 L82.03,218.03 L82.48,218.17 L83.86,218.61 L85.25,219.03 L86.65,219.43 L88.05,219.81 L89.45,220.19 L90.85,220.55 L92.26,220.91 L93.67,221.26 L95.08,221.61 L96.49,221.95 L97.90,222.28 L99.31,222.60 L100.73,222.92 L102.15,223.23 L103.56,223.54 L104.98,223.84 L106.41,224.13 L107.83,224.41 L109.25,224.68 L110.68,224.95 L112.11,225.20 L113.54,225.44 L114.97,225.68 L116.41,225.90 L117.84,226.10 L119.28,226.30 L120.72,226.49 L122.16,226.67 L123.60,226.84 L125.04,227.00 L126.49,227.15 L127.93,227.29 L129.37,227.43 L130.82,227.56 L132.27,227.68 L133.71,227.80 L135.16,227.92 L136.60,228.04 L138.05,228.15 L139.50,228.26 L140.94,228.37 L142.39,228.48 L143.84,228.60 L145.28,228.71 L146.73,228.82 L148.18,228.92 L149.62,229.03 L151.07,229.13 L152.52,229.24 L153.97,229.33 L155.41,229.43 L156.86,229.53 L158.31,229.62 L159.76,229.72 L161.20,229.81 L162.65,229.91 L164.10,230.01 L165.55,230.11 L166.99,230.21 L168.44,230.31 L169.89,230.40 L171.34,230.50 L172.79,230.59 L174.23,230.68 L175.68,230.77 L177.13,230.85 L178.58,230.93 L180.03,231.00 L181.48,231.07 L182.93,231.13 L184.38,231.19 L185.83,231.24 L187.28,231.29 L188.73,231.34 L190.18,231.38 L191.63,231.42 L193.08,231.46 L194.53,231.49 L195.98,231.52 L197.43,231.55 L198.88,231.58 L200.33,231.61 L201.78,231.63 L203.23,231.66 L204.68,231.68 L206.13,231.70 L207.58,231.73 L209.04,231.75 L210.49,231.77 L211.94,231.79 L213.39,231.81 L214.84,231.83 L216.29,231.85 L217.74,231.87 L219.19,231.89 L220.64,231.91 L222.09,231.93 L223.54,231.94 L224.99,231.96 L226.44,231.98 L227.90,231.99 L229.35,232.00 L230.80,232.01 L232.25,232.02 L233.70,232.02 L235.15,232.02 L236.60,232.02 L238.05,232.01 L239.50,232.00 L240.95,231.99 L242.40,231.97 L243.85,231.95 L245.30,231.92 L246.76,231.89 L248.21,231.86 L249.66,231.83 L251.11,231.79 L252.56,231.75 L254.01,231.71 L255.46,231.67 L256.91,231.63 L258.36,231.59 L259.81,231.56 L261.26,231.52 L262.71,231.48 L264.16,231.44 L265.61,231.41 L267.06,231.37 L268.51,231.34 L269.96,231.31 L271.41,231.27 L272.86,231.24 L274.31,231.21 L275.76,231.18 L277.21,231.15 L278.67,231.12 L280.12,231.10 L281.57,231.07 L283.02,231.05 L284.47,231.02 L285.92,230.99 L287.37,230.97 L288.82,230.94 L290.27,230.92 L291.72,230.89 L293.17,230.86 L294.62,230.83 L296.07,230.80 L297.52,230.76 L298.97,230.73 L300.42,230.69 L301.87,230.65 L303.32,230.60 L304.77,230.56 L306.22,230.51 L307.67,230.46 L309.12,230.41 L310.57,230.36 L312.02,230.30 L313.47,230.25 L314.92,230.19 L316.37,230.14 L317.82,230.08 L319.27,230.03 L320.72,229.97 L322.17,229.92 L323.62,229.86 L325.07,229.81 L326.52,229.75 L327.97,229.70 L329.42,229.65 L330.87,229.60 L332.32,229.55 L333.77,229.50 L335.22,229.45 L336.67,229.40 L338.12,229.36 L339.57,229.31 L341.02,229.27 L342.47,229.23 L343.92,229.19 L345.37,229.15 L346.82,229.11 L348.28,229.07 L349.73,229.04 L351.18,229.00 L352.63,228.97 L354.08,228.93 L355.53,228.90 L356.98,228.87 L358.43,228.83 L359.88,228.80 L361.33,228.77 L362.78,228.74 L364.23,228.71 L365.68,228.68 L367.13,228.65 L368.58,228.62 L370.03,228.59 L371.48,228.57 L372.93,228.54 L374.39,228.52 L375.84,228.50 L377.29,228.48 L378.74,228.46 L380.19,228.45 L381.64,228.44 L383.09,228.43 L384.54,228.42 L385.99,228.41 L387.44,228.41 L388.89,228.41 L390.34,228.40 L391.79,228.40 L393.25,228.40 L394.70,228.40 L396.15,228.40 L397.60,228.40 L399.05,228.40 L400.50,228.40 L401.95,228.40 L403.40,228.40 L404.85,228.40 L406.30,228.40 L407.76,228.40 L409.21,228.41 L410.66,228.43 L412.11,228.44 L413.56,228.47 L415.01,228.50 L416.46,228.54 L417.91,228.59 L419.36,228.64 L420.81,228.71 L422.26,228.79 L423.70,228.88 L425.15,228.98 L426.60,229.10" stroke="#ff0000" stroke-width="0.9"/>
</g>
<g stroke="#808080" stroke-width="1" fill="none">
<path d="M52.6,0V236.25H434.4V0M52.1,0.2H434.9"/>
</g>
<g stroke="#707070" stroke-width="0.8" fill="none">
<path d="M69.80,236.25v-3.0 M69.80,0.2v3.0 M93.60,236.25v-3.0 M93.60,0.2v3.0 M117.40,236.25v-3.0 M117.40,0.2v3.0 M141.20,236.25v-4.6 M141.20,0.2v4.6 M165.00,236.25v-3.0 M165.00,0.2v3.0 M188.80,236.25v-3.0 M188.80,0.2v3.0 M212.60,236.25v-3.0 M212.60,0.2v3.0 M236.40,236.25v-3.0 M236.40,0.2v3.0 M260.20,236.25v-4.6 M260.20,0.2v4.6 M284.00,236.25v-3.0 M284.00,0.2v3.0 M307.80,236.25v-3.0 M307.80,0.2v3.0 M331.60,236.25v-3.0 M331.60,0.2v3.0 M355.40,236.25v-3.0 M355.40,0.2v3.0 M379.20,236.25v-4.6 M379.20,0.2v4.6 M403.00,236.25v-3.0 M403.00,0.2v3.0 M426.80,236.25v-3.0 M426.80,0.2v3.0 M52.6,232.30h4.6 M434.4,232.30h-4.6 M52.6,223.89h3.0 M434.4,223.89h-3.0 M52.6,215.48h3.0 M434.4,215.48h-3.0 M52.6,207.07h3.0 M434.4,207.07h-3.0 M52.6,198.66h3.0 M434.4,198.66h-3.0 M52.6,190.25h4.6 M434.4,190.25h-4.6 M52.6,181.84h3.0 M434.4,181.84h-3.0 M52.6,173.43h3.0 M434.4,173.43h-3.0 M52.6,165.02h3.0 M434.4,165.02h-3.0 M52.6,156.61h3.0 M434.4,156.61h-3.0 M52.6,148.20h4.6 M434.4,148.20h-4.6 M52.6,139.79h3.0 M434.4,139.79h-3.0 M52.6,131.38h3.0 M434.4,131.38h-3.0 M52.6,122.97h3.0 M434.4,122.97h-3.0 M52.6,114.56h3.0 M434.4,114.56h-3.0 M52.6,106.15h4.6 M434.4,106.15h-4.6 M52.6,97.74h3.0 M434.4,97.74h-3.0 M52.6,89.33h3.0 M434.4,89.33h-3.0 M52.6,80.92h3.0 M434.4,80.92h-3.0 M52.6,72.51h3.0 M434.4,72.51h-3.0 M52.6,64.10h4.6 M434.4,64.10h-4.6 M52.6,55.69h3.0 M434.4,55.69h-3.0 M52.6,47.28h3.0 M434.4,47.28h-3.0 M52.6,38.87h3.0 M434.4,38.87h-3.0 M52.6,30.46h3.0 M434.4,30.46h-3.0 M52.6,22.05h4.6 M434.4,22.05h-4.6 M52.6,13.64h3.0 M434.4,13.64h-3.0 M52.6,5.23h3.0 M434.4,5.23h-3.0"/>
</g>
<g font-family="'Liberation Serif', serif" font-size="15" fill="#000">
<text x="49" y="236.25" text-anchor="end">0.0</text>
<text x="49" y="194.20" text-anchor="end">0.5</text>
<text x="49" y="152.15" text-anchor="end">1.0</text>
<text x="49" y="110.10" text-anchor="end">1.5</text>
<text x="49" y="68.05" text-anchor="end">2.0</text>
<text x="49" y="26.00" text-anchor="end">2.5</text>
<text x="141.20" y="251.1" text-anchor="middle">0.90</text>
<text x="260.20" y="251.1" text-anchor="middle">0.95</text>
<text x="379.20" y="251.1" text-anchor="middle">1.00</text>
<text x="243.3" y="273.7" text-anchor="middle" font-style="italic">λ</text>
<g transform="translate(15.2,136.7) rotate(-90)">
<text x="0" y="0" font-style="italic">R</text>
<text x="9.7" y="-7.3" font-size="9.8">(VBF)</text>
<text x="7.9" y="4.3" font-size="9.5">hXX</text>
</g>
</g>
</svg>
</body></html>
